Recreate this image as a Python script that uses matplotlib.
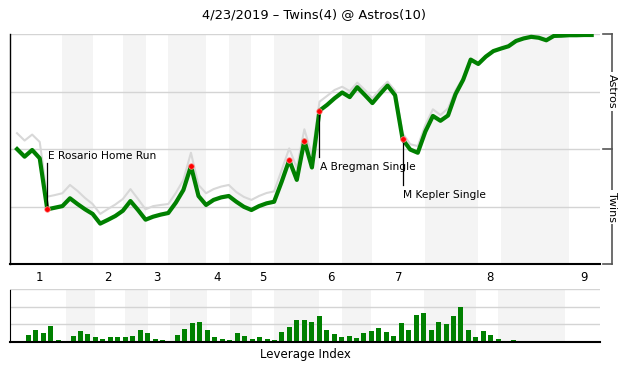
import matplotlib
matplotlib.use("Agg")
import matplotlib.pyplot as plt
import matplotlib.transforms as mtransforms

# ---- data ----
title = "4/23/2019 \u2013 Twins(4) @ Astros(10)"

# home (Astros) win probability after each plate appearance, in percent
home_wp = [50.1, 46.8, 49.7, 46.1, 23.9, 24.6, 25.3, 28.7, 26.2, 23.9,
           21.9, 17.7, 19.3, 21.0, 23.3, 27.5, 23.6, 19.4, 20.7, 21.6,
           22.3, 26.8, 32.3, 42.7, 29.7, 25.8, 28.0, 29.1, 29.7, 27.2,
           25.0, 23.6, 25.3, 26.5, 27.2, 35.9, 45.3, 36.7, 53.8, 42.1,
           66.8, 69.3, 72.2, 74.7, 72.7, 77.0, 73.6, 70.1, 74.0, 77.7,
           73.5, 54.3, 49.9, 48.5, 57.7, 64.5, 62.4, 64.7, 74.0, 80.2,
           89.0, 87.1, 90.3, 92.7, 93.8, 94.8, 97.1, 98.2, 98.9, 98.5,
           97.4, 99.3, 99.4, 99.6, 99.6, 99.7, 99.7]

# light grey comparison line
alt_wp = [57.0, 53.8, 56.4, 53.2, 29.4, 30.1, 30.9, 34.5, 31.9, 28.8,
          26.2, 21.9, 24.0, 26.0, 28.4, 32.7, 28.4, 23.9, 25.3, 25.8,
          26.2, 31.0, 36.7, 48.5, 34.5, 30.9, 32.7, 33.8, 34.5, 31.4,
          29.3, 28.0, 29.7, 31.0, 31.7, 41.0, 50.4, 41.9, 58.7, 47.5,
          70.7, 73.2, 75.8, 77.2, 75.3, 79.0, 75.8, 72.2, 76.2, 79.4,
          75.5, 57.0, 52.2, 51.4, 60.6, 67.4, 64.9, 67.8, 75.8, 81.0,
          89.3, 87.4, 90.5, 92.9, 94.0, 95.0, 97.2, 98.3, 99.0, 98.6,
          97.5, 99.4, 99.5, 99.6, 99.6, 99.7, 99.7]

# leverage index per plate appearance
leverage = [0.40, 0.68, 0.51, 0.91, 0.11, 0.06, 0.34, 0.63, 0.46, 0.28,
            0.17, 0.28, 0.28, 0.28, 0.34, 0.68, 0.51, 0.17, 0.11, 0.06,
            0.40, 0.74, 1.08, 1.14, 0.68, 0.28, 0.17, 0.11, 0.51, 0.34,
            0.17, 0.28, 0.17, 0.11, 0.57, 0.85, 1.25, 1.25, 1.14, 1.48,
            0.68, 0.46, 0.28, 0.34, 0.23, 0.51, 0.63, 0.80, 0.57, 0.34,
            1.08, 0.68, 1.54, 1.65, 0.68, 1.14, 1.02, 1.48, 1.99, 0.68,
            0.28, 0.63, 0.40, 0.17, 0.06, 0.11, 0.06, 0.0, 0.0, 0.06,
            0.06, 0.0, 0.0, 0.0, 0.0, 0.0]

# plate-appearance index where each half inning starts (last = end of game)
half_starts = [0, 6, 10, 14, 17, 20, 25, 28, 31, 34, 40, 43, 47, 54, 61, 64, 73, 77]
inning_labels = ["1", "2", "3", "4", "5", "6", "7", "8", "9"]

# big swings marked with red dots
key_events = [4, 23, 36, 38, 40, 51]
# (event index, label, text y, end of connector y)
callouts = [(4, "E Rosario Home Run", 47.0, 44.0),
            (40, "A Bregman Single", 42.4, 46.7),
            (51, "M Kepler Single", 30.1, 34.5)]

GREEN = "#008000"
BAND = "#f4f4f4"
GRID = "#d4d4d4"

plt.rcParams["font.family"] = ["DejaVu Sans"]

fig = plt.figure(figsize=(6.3, 3.8), dpi=100)
fig.patch.set_facecolor("white")

ax = fig.add_axes([10 / 630, 115.7 / 380, 590 / 630, 230 / 380])
lev_ax = fig.add_axes([10 / 630, 38 / 380, 590 / 630, 52.7 / 380])


def shade_half_innings(a):
    # bottom halves (home team batting) are shaded
    for i in range(1, len(half_starts) - 1, 2):
        a.axvspan(half_starts[i], half_starts[i + 1], color=BAND, lw=0, zorder=0)


# ---- win probability chart ----
shade_half_innings(ax)
for g in [25, 50, 75, 100]:
    ax.axhline(g, color=GRID, lw=1, zorder=1)

xs = list(range(len(home_wp)))
ax.plot(xs, alt_wp, color="#d8d8d8", lw=1.5, zorder=2)
ax.plot(xs, home_wp, color=GREEN, lw=3, zorder=3)
ax.plot(key_events, [home_wp[i] for i in key_events], "o", color="red",
        ms=4, mec="#ff9090", mew=0.5, zorder=4)

for idx, label, ty, ly in callouts:
    ax.plot([idx, idx], [home_wp[idx], ly], color="black", lw=0.9, zorder=3.5)
    ax.text(idx + 0.1, ty, label, fontsize=7.7, ha="left", va="center", zorder=5)

ax.set_xlim(-0.93, 77.1)
ax.set_ylim(0, 100)
mids = [(half_starts[2 * k] + half_starts[2 * k + 1]) / 2 for k in range(len(inning_labels))]
ax.set_xticks(mids)
ax.set_xticklabels(inning_labels, fontsize=8.5)
ax.tick_params(axis="x", length=0, pad=5)
ax.set_yticks([])
for side in ["top", "right"]:
    ax.spines[side].set_visible(False)
ax.spines["left"].set_linewidth(1)
ax.spines["bottom"].set_linewidth(1.5)

# bracket on the right with team labels
tr = mtransforms.blended_transform_factory(ax.transAxes, ax.transAxes)
bx0, bx1 = 1.005, 1.021
ax.plot([bx1, bx1], [0, 1], color="#555555", lw=1.2, transform=tr, clip_on=False)
for yy in [0, 0.5, 1]:
    ax.plot([bx0, bx1], [yy, yy], color="#555555", lw=1.2, transform=tr, clip_on=False)
for yy, team in [(0.75, "Astros"), (0.25, "Twins")]:
    ax.text(bx1, yy, team, rotation=270, fontsize=8, ha="center", va="center",
            transform=tr, clip_on=False,
            bbox=dict(facecolor="white", edgecolor="none", pad=1.5))

fig.text(314 / 630, 1 - 15 / 380, title, fontsize=9.4, ha="center", va="center")

# ---- leverage index chart ----
shade_half_innings(lev_ax)
for g in [1, 2, 3]:
    lev_ax.axhline(g, color=GRID, lw=1, zorder=1)
lev_x = list(range(1, len(leverage) + 1))
lev_ax.bar(lev_x, leverage, width=0.67, color=GREEN, zorder=2)
lev_ax.set_xlim(-1.453, 77.64)
lev_ax.set_ylim(0, 3)
lev_ax.set_xticks([])
lev_ax.set_yticks([])
for side in ["top", "right"]:
    lev_ax.spines[side].set_visible(False)
lev_ax.spines["bottom"].set_linewidth(1.5)
lev_ax.spines["left"].set_bounds(0, 2.95)
lev_ax.set_xlabel("Leverage Index", fontsize=8.5, labelpad=4)

fig.savefig("out.png", dpi=100, facecolor="white")
